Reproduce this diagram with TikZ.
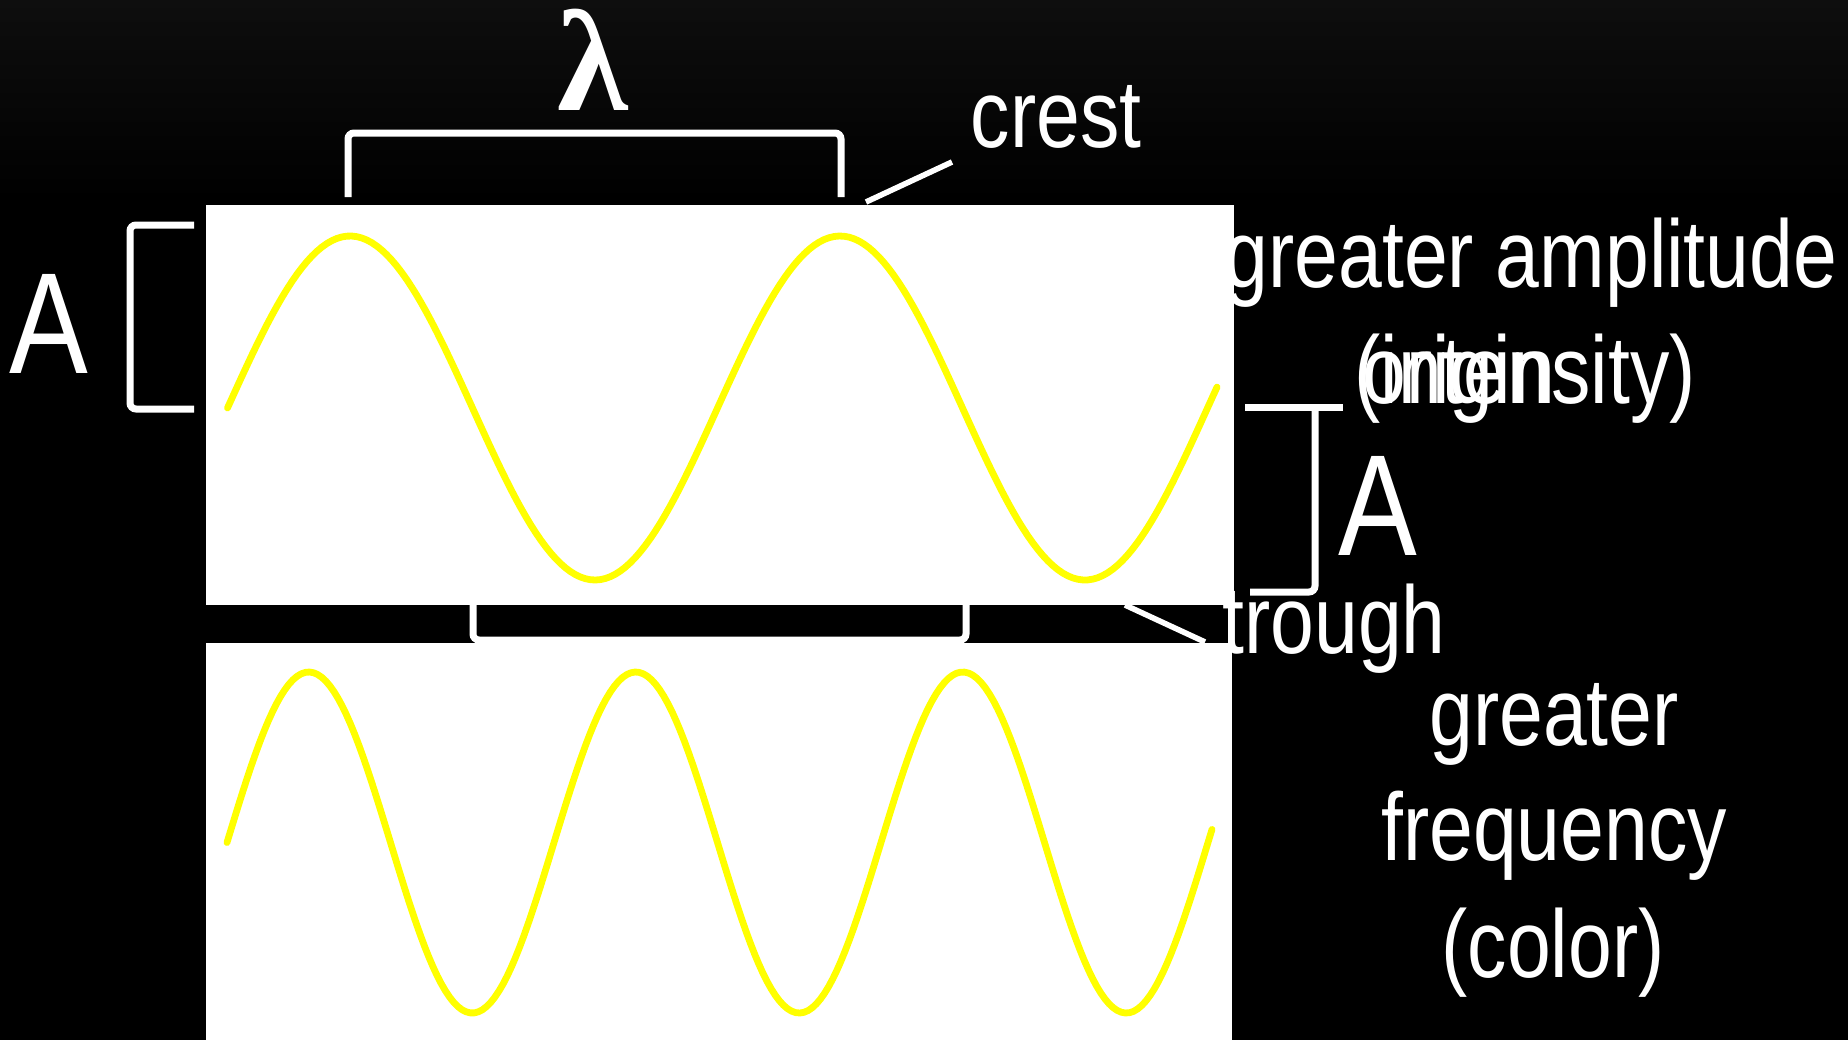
\documentclass[tikz,border=0pt]{standalone}
\usepackage{fontspec}
\setmainfont[FakeStretch=0.82]{Liberation Sans}
\newfontfamily\lambdafont{Liberation Serif}
\usepackage{xcolor}
\definecolor{waveYellow}{HTML}{FFFF00}
\definecolor{bgTop}{HTML}{0E0E0E}
\usepackage{tikz}

\begin{document}
\begin{tikzpicture}[x=0.5pt, y=-0.5pt,
    lbl/.style={text=white, inner sep=0pt, anchor=base, font=\fontsize{48}{56}\selectfont},
    biglbl/.style={lbl, font=\fontsize{72}{80}\selectfont},
    panel/.style={fill=white, draw=none},
    wave/.style={waveYellow, line width=3.4pt, line cap=round, line join=round},
    brk/.style={white, line width=3.5pt, rounded corners=3pt},
    lead/.style={white, line width=2.8pt}
  ]
    % background
    \fill[black] (0,0) rectangle (1848,1040);
    \shade[top color=bgTop, bottom color=black] (0,0) rectangle (1848,200);
    \useasboundingbox (0,0) rectangle (1848,1040);

    % panels
    \fill[panel] (206,205) rectangle (1234,605);
    \fill[panel] (206,643) rectangle (1232,1040);

    % waves
    \draw[wave] plot[domain=227.5:1217, samples=200] (\x, {408-172*sin((\x-227.5)/490*360)});
    \draw[wave] plot[domain=227:1212, samples=240] (\x, {842.5-170.5*sin((\x-227)/327*360)});

    % labels
    \node[lbl, font=\lambdafont\bfseries\fontsize{72}{80}\selectfont] (lam) at (593,110) {λ};
    \node[lbl] (crest) at (1056,147) {crest};
    \node[lbl] (ampl) at (1531,287) {greater amplitude};
    \node[lbl] (intens) at (1525,403) {(intensity)};
    \node[lbl, anchor=base west] (origin) at (1362,403) {origin};
    \node[biglbl] (aleft) at (49,373) {A};
    \node[biglbl] (aright) at (1378,555) {A};
    \node[lbl] (trough) at (1334,653) {trough};
    \node[lbl] (greater) at (1554,745) {greater};
    \node[lbl] (freq) at (1554,860) {frequency};
    \node[lbl] (color) at (1553,977) {(color)};

    % brackets
    \draw[brk] (348,197) -- (348,133) -- (841,133) -- (841,197);
    \draw[brk] (473,605) -- (473,640) -- (966,640) -- (966,605);
    \draw[brk] (194,225) -- (130,225) -- (130,409) -- (194,409);
    \draw[brk] (1245,407) -- (1343,407);
    \draw[brk] (1315,407) -- (1315,592) -- (1250,592);

    % leader lines
    \coordinate (crestfoot) at (866,202);
    \coordinate (cresttip) at (952,162);
    \coordinate (troughfoot) at (1125,605);
    \coordinate (troughtip) at (1205,642);
    \draw[lead] (crestfoot) -- (cresttip);
    \draw[lead] (troughfoot) -- (troughtip);
\end{tikzpicture}
\end{document}
